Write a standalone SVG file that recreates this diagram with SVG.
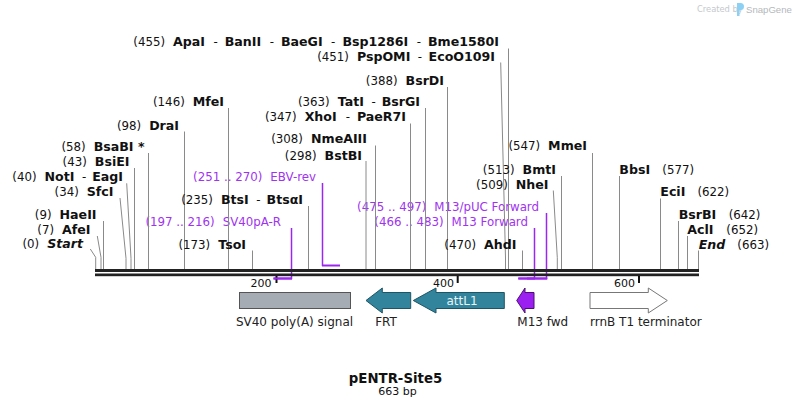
<svg xmlns="http://www.w3.org/2000/svg" width="794" height="408" viewBox="0 0 794 408">
<style>
text{font-family:"DejaVu Sans","Liberation Sans",sans-serif;font-size:11.8px;fill:#111}
.nm{font-weight:bold;font-size:12.6px}
.it{font-style:italic}
.pr{fill:#a033f0}
.cut{stroke:#8a8a8a;stroke-width:1;fill:none}
.pl{stroke:#9b26ef;stroke-width:1.5;fill:none}
.ph{stroke:#9b26ef;stroke-width:2;fill:none}
.ft{font-size:12px;fill:#222}
.tk{font-size:11px;fill:#111}
</style>
<rect width="794" height="408" fill="#fff"/>

<g id="watermark">
<text x="697" y="12" style="font-size:8.3px;fill:#c4c8cc">Created by</text>
<path d="M737,3 h3.5 a3.5,3.5 0 0 1 0,7 h-1 v6 h-2.5 z" fill="#8cd0f4"/>
<text x="746" y="13" style="font-family:'Liberation Sans',sans-serif;font-size:9.6px;fill:#b4b8bc">SnapGene</text>
</g>

<g id="primers">
<g id="p-ebvrev"><path class="pl" d="M322.5,183 V266"/><path class="ph" d="M322,265.5 H340"/>
<text x="316" y="180.5" text-anchor="end" class="pr">(251 .. 270)<tspan dx="8">EBV-rev</tspan></text></g>
<g id="p-sv40par"><path class="pl" d="M291.5,228 V279"/><path class="ph" d="M273.5,278.5 H292"/>
<text x="281" y="225.5" text-anchor="end" class="pr">(197 .. 216)<tspan dx="8">SV40pA-R</tspan></text></g>
<g id="p-m13puc"><path class="pl" d="M546.5,213 V279"/><path class="ph" d="M527,278.5 H547.2"/>
<text x="539" y="210.5" text-anchor="end" class="pr">(475 .. 497)<tspan dx="8">M13/pUC Forward</tspan></text></g>
<g id="p-m13fwd"><path class="pl" d="M534.5,228 V279"/><path class="ph" d="M518.3,278.5 H535"/>
<text x="528" y="225.5" text-anchor="end" class="pr">(466 .. 483)<tspan dx="8">M13 Forward</tspan></text></g>
</g>

<g id="connectors">
<path class="cut" d="M90.3,249 L95.7,257.3 V269"/>
<path class="cut" d="M97.3,236 L101,257.3 V269"/>
<path class="cut" d="M103.5,221 V269"/>
<path class="cut" d="M120,198 L126,258.3 V269"/>
<path class="cut" d="M126.7,183.3 L131,258.3 V269"/>
<path class="cut" d="M134.5,168 V269"/>
<path class="cut" d="M148.5,153 V269"/>
<path class="cut" d="M184.5,131.5 V269"/>
<path class="cut" d="M228.5,108 V269"/>
<path class="cut" d="M252.5,250.5 V269"/>
<path class="cut" d="M308.5,206 V269"/>
<path class="cut" d="M366,161 V269"/>
<path class="cut" d="M375.5,145.5 V269"/>
<path class="cut" d="M410.5,123.5 V269"/>
<path class="cut" d="M425.5,108 V269"/>
<path class="cut" d="M447.5,87 V269"/>
<path class="cut" d="M500.7,62.5 L505.5,258 V269"/>
<path class="cut" d="M508.5,48.5 V269"/>
<path class="cut" d="M522.5,250.5 V269"/>
<path class="cut" d="M553.3,190.5 L557.3,257.7 V269"/>
<path class="cut" d="M561.5,176 V269"/>
<path class="cut" d="M592.5,153 V269"/>
<path class="cut" d="M619.5,176 V269"/>
<path class="cut" d="M660.5,198.5 V269"/>
<path class="cut" d="M678.5,221 V269"/>
<path class="cut" d="M687.5,236 V269"/>
<path class="cut" d="M698.5,250.5 V269"/>
</g>

<g id="backbone">
<rect x="95" y="269" width="604" height="3" fill="#222"/>
<rect x="95" y="273.5" width="604" height="2.7" fill="#222"/>
<rect x="275.5" y="276" width="2" height="7" fill="#111"/>
<rect x="456.7" y="276" width="2" height="7" fill="#111"/>
<rect x="638" y="276" width="2" height="7" fill="#111"/>
<path class="ph" d="M273.5,278.5 H292"/>
<path class="ph" d="M518.3,278.5 H547.2"/>
<text class="tk" x="271.5" y="286.5" text-anchor="end">200</text>
<text class="tk" x="454" y="286.5" text-anchor="end">400</text>
<text class="tk" x="635" y="286.5" text-anchor="end">600</text>
</g>

<g id="sites">
<g id="s-start"><text x="83" y="248" text-anchor="end">(0)<tspan class="nm it" dx="8">Start</tspan></text></g>
<g id="s-afei"><text x="90.5" y="233.5" text-anchor="end">(7)<tspan class="nm" dx="8">AfeI</tspan></text></g>
<g id="s-haeii"><text x="96.5" y="218.5" text-anchor="end">(9)<tspan class="nm" dx="8">HaeII</tspan></text></g>
<g id="s-sfci"><text x="113.5" y="196" text-anchor="end">(34)<tspan class="nm" dx="8">SfcI</tspan></text></g>
<g id="s-noti"><text x="123" y="181" text-anchor="end">(40)<tspan class="nm" dx="8">NotI</tspan><tspan dx="7.5">-</tspan><tspan class="nm" dx="6">EagI</tspan></text></g>
<g id="s-bsiei"><text x="129.5" y="166" text-anchor="end">(43)<tspan class="nm" dx="8">BsiEI</tspan></text></g>
<g id="s-bsabi"><text x="144.5" y="151" text-anchor="end">(58)<tspan class="nm" dx="8">BsaBI *</tspan></text></g>
<g id="s-drai"><text x="179" y="129.5" text-anchor="end">(98)<tspan class="nm" dx="8">DraI</tspan></text></g>
<g id="s-mfei"><text x="224" y="105.5" text-anchor="end">(146)<tspan class="nm" dx="8">MfeI</tspan></text></g>
<g id="s-tsoi"><text x="246" y="248.5" text-anchor="end">(173)<tspan class="nm" dx="8">TsoI</tspan></text></g>
<g id="s-btsi"><text x="303" y="203.5" text-anchor="end">(235)<tspan class="nm" dx="8">BtsI</tspan><tspan dx="7.5">-</tspan><tspan class="nm" dx="6">BtsαI</tspan></text></g>
<g id="s-bstbi"><text x="362" y="159.5" text-anchor="end">(298)<tspan class="nm" dx="8">BstBI</tspan></text></g>
<g id="s-nmeaiii"><text x="367" y="143" text-anchor="end">(308)<tspan class="nm" dx="8">NmeAIII</tspan></text></g>
<g id="s-xhoi"><text x="406" y="121" text-anchor="end">(347)<tspan class="nm" dx="8">XhoI</tspan><tspan dx="9">-</tspan><tspan class="nm" dx="7">PaeR7I</tspan></text></g>
<g id="s-tati"><text x="420" y="105.5" text-anchor="end">(363)<tspan class="nm" dx="8">TatI</tspan><tspan dx="7.5">-</tspan><tspan class="nm" dx="6">BsrGI</tspan></text></g>
<g id="s-bsrdi"><text x="444" y="84.5" text-anchor="end">(388)<tspan class="nm" dx="8">BsrDI</tspan></text></g>
<g id="s-pspomi"><text x="495" y="60.5" text-anchor="end">(451)<tspan class="nm" dx="8">PspOMI</tspan><tspan dx="7.5">-</tspan><tspan class="nm" dx="6.5">EcoO109I</tspan></text></g>
<g id="s-apai"><text x="499" y="46" text-anchor="end">(455)<tspan class="nm" dx="8">ApaI</tspan><tspan dx="8.5">-</tspan><tspan class="nm" dx="7">BanII</tspan><tspan dx="8.5">-</tspan><tspan class="nm" dx="7">BaeGI</tspan><tspan dx="8.5">-</tspan><tspan class="nm" dx="7">Bsp1286I</tspan><tspan dx="8.5">-</tspan><tspan class="nm" dx="7">Bme1580I</tspan></text></g>
<g id="s-ahdi"><text x="516.5" y="248.5" text-anchor="end">(470)<tspan class="nm" dx="8">AhdI</tspan></text></g>
<g id="s-nhei"><text x="548.5" y="188.5" text-anchor="end">(509)<tspan class="nm" dx="8">NheI</tspan></text></g>
<g id="s-bmti"><text x="556" y="173.5" text-anchor="end">(513)<tspan class="nm" dx="8">BmtI</tspan></text></g>
<g id="s-mmei"><text x="587" y="150" text-anchor="end">(547)<tspan class="nm" dx="8">MmeI</tspan></text></g>
<g id="s-bbsi"><text class="nm" x="619.3" y="173.5">BbsI</text><text x="662.3" y="173.5">(577)</text></g>
<g id="s-ecii"><text class="nm" x="660.3" y="195.5">EciI</text><text x="697.5" y="195.5">(622)</text></g>
<g id="s-bsrbi"><text class="nm" x="678.7" y="218.5">BsrBI</text><text x="728.7" y="218.5">(642)</text></g>
<g id="s-acli"><text class="nm" x="687.3" y="233.5">AclI</text><text x="726.3" y="233.5">(652)</text></g>
<g id="s-end"><text class="nm it" x="698.7" y="248.5">End</text><text x="737.3" y="248.5">(663)</text></g>
</g>

<g id="features">
<g id="f-sv40"><rect x="239.5" y="292.5" width="111" height="16" fill="#a6acb3" stroke="#555" stroke-width="1"/>
<text class="ft" x="294.5" y="325.5" text-anchor="middle">SV40 poly(A) signal</text></g>
<g id="f-frt"><path d="M366,300.5 L382.3,288 V292.5 H410.7 V308.5 H382.3 V313 Z" fill="#31849b" stroke="#1e5565" stroke-width="1"/>
<text class="ft" x="386" y="325.5" text-anchor="middle">FRT</text></g>
<g id="f-attl1"><path d="M413.3,300.5 L436,288 V292.5 H504.3 V308.5 H436 V313 Z" fill="#31849b" stroke="#1e5565" stroke-width="1"/>
<text class="ft" x="462" y="304.5" text-anchor="middle" style="fill:#e8f4f7">attL1</text></g>
<g id="f-m13fwd"><path d="M516.7,300.5 L525,288 V292.5 H534 V308.5 H525 V313 Z" fill="#9b1ff0" stroke="#4a1070" stroke-width="1"/>
<text class="ft" x="517.3" y="325.5">M13 fwd</text></g>
<g id="f-rrnb"><path d="M590,292.5 H648.3 V288 L667.3,300.5 L648.3,313 V308.5 H590 Z" fill="#fff" stroke="#777" stroke-width="1"/>
<text class="ft" x="590" y="325.5">rrnB T1 terminator</text></g>
</g>

<g id="title">
<text x="395.5" y="382.5" text-anchor="middle" style="font-weight:bold;font-size:13.3px">pENTR-Site5</text>
<text x="397.5" y="395" text-anchor="middle" style="font-size:11px">663 bp</text>
</g>
</svg>
